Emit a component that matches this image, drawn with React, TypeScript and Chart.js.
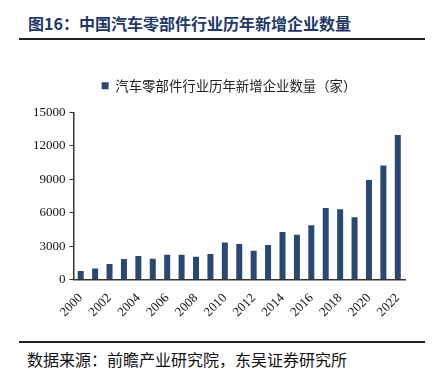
import React, { useEffect, useRef } from "react";
import { Chart, registerables } from "chart.js";

Chart.register(...registerables);

const years: string[] = [
  "2000", "2001", "2002", "2003", "2004", "2005", "2006", "2007", "2008", "2009", "2010", "2011",
  "2012", "2013", "2014", "2015", "2016", "2017", "2018", "2019", "2020", "2021", "2022",
];
const newFirms: number[] = [
  780, 990, 1400, 1840, 2110, 1880, 2230, 2230, 2050, 2290, 3330, 3190,
  2590, 3100, 4260, 4020, 4880, 6430, 6310, 5600, 8930, 10240, 12980,
];
const yTicks: number[] = [0, 3000, 6000, 9000, 12000, 15000];
const seriesLabel = "汽车零部件行业历年新增企业数量（家）";
const titleText = "图16：中国汽车零部件行业历年新增企业数量";
const sourceText = "数据来源：前瞻产业研究院，东吴证券研究所";

const SERIF = "'Liberation Serif', 'Times New Roman', 'Noto Sans CJK SC', serif";
const CJK = "'Noto Sans CJK SC', 'Liberation Serif', sans-serif";

const legendSpacer = {
  id: "legendSpacer",
  beforeInit(chart: any) {
    const origFit = chart.legend.fit;
    chart.legend.fit = function () {
      origFit.bind(chart.legend)();
      this.height += 10;
    };
  },
  afterLayout(chart: any) {
    if (chart.legend) {
      chart.legend.left += 12;
      chart.legend.right += 12;
    }
  },
};

export default function App() {
  const ref = useRef<HTMLCanvasElement | null>(null);

  useEffect(() => {
    if (!ref.current) return;
    const chart = new Chart(ref.current, {
      type: "bar",
      data: {
        labels: years,
        datasets: [
          {
            label: seriesLabel,
            data: newFirms,
            backgroundColor: "#2a4870",
            borderWidth: 0,
            categoryPercentage: 0.8,
            barPercentage: 0.52,
          },
        ],
      },
      plugins: [legendSpacer],
      options: {
        responsive: false,
        animation: false,
        layout: { padding: { top: 19, left: 29, right: 30, bottom: 17 } },
        plugins: {
          legend: {
            display: true,
            position: "top",
            labels: {
              boxWidth: 7,
              boxHeight: 7,
              padding: 10,
              color: "#222",
              font: { family: CJK, size: 13.4 },
            },
          },
          tooltip: { enabled: false },
        },
        scales: {
          x: {
            grid: { display: false },
            border: { display: true, color: "#333", width: 1.5 },
            ticks: {
              autoSkip: false,
              maxRotation: 45,
              minRotation: 45,
              color: "#111",
              font: { family: SERIF, size: 13 },
              callback: (_v: any, i: number) => (i % 2 === 0 ? years[i] : ""),
            },
          },
          y: {
            min: 0,
            max: 15000,
            afterBuildTicks: (axis: any) => {
              axis.ticks = yTicks.map((v) => ({ value: v }));
            },
            grid: {
              display: true,
              drawOnChartArea: false,
              drawTicks: true,
              tickLength: 4,
              color: "#333",
            },
            border: { display: true, color: "#333", width: 1.5 },
            ticks: {
              color: "#111",
              padding: 4,
              font: { family: SERIF, size: 13 },
              callback: (v: any) => String(v),
            },
          },
        },
      },
    });
    return () => chart.destroy();
  }, []);

  return (
    <div style={{ position: "absolute", left: 0, top: 0, width: 435, height: 381, background: "#fff" }}>
      <div
        style={{
          position: "absolute",
          left: 28,
          top: 11,
          fontFamily: CJK,
          fontWeight: 700,
          fontSize: 16,
          lineHeight: "24px",
          color: "#1f3864",
          whiteSpace: "nowrap",
        }}
      >
        {titleText}
      </div>
      <div style={{ position: "absolute", left: 19, top: 38, width: 406, height: 2, background: "#222" }} />
      <canvas
        ref={ref}
        width={435}
        height={290}
        style={{ position: "absolute", left: 0, top: 50, width: 435, height: 290 }}
      />
      <div style={{ position: "absolute", left: 19, top: 341, width: 406, height: 1.5, background: "#222" }} />
      <div
        style={{
          position: "absolute",
          left: 27,
          top: 348,
          fontFamily: CJK,
          fontSize: 16,
          lineHeight: "22px",
          color: "#111",
          whiteSpace: "nowrap",
        }}
      >
        {sourceText}
      </div>
    </div>
  );
}
